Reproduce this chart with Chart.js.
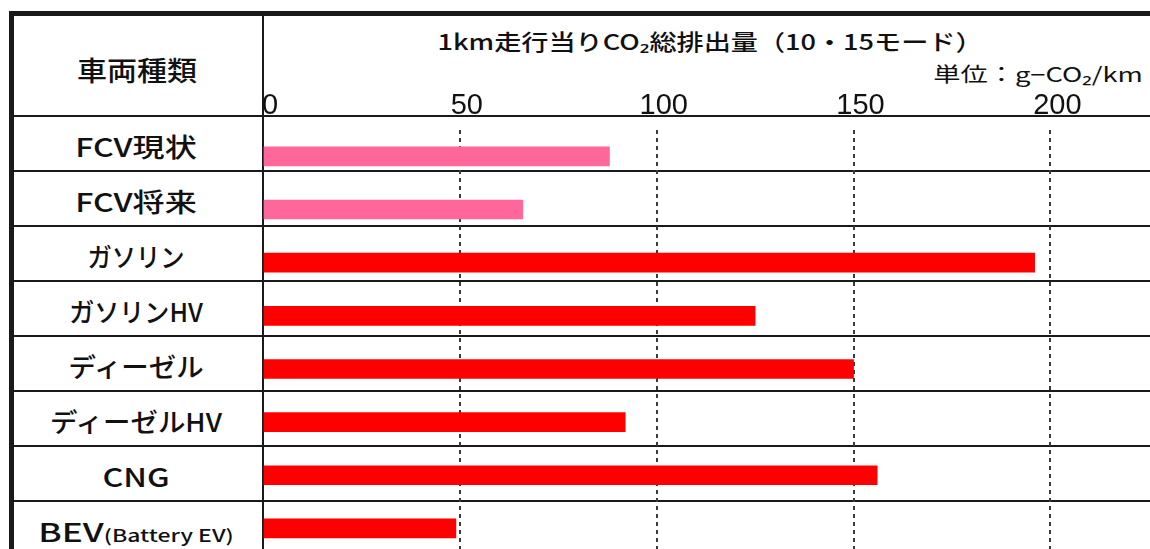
<!DOCTYPE html>
<html lang="ja">
<head>
<meta charset="utf-8">
<script src="https://cdn.jsdelivr.net/npm/chart.js@4.4.0/dist/chart.umd.min.js"></script>
<style>
html, body { margin: 0; padding: 0; background: #fff; overflow: hidden; }
#page {
    position: relative; width: 1150px; height: 549px; overflow: hidden;
    font-family: "Noto Sans CJK JP", "Noto Sans", sans-serif; color: #111;
}
.line { position: absolute; background: #1a1a1a; }
.fit {
    position: absolute; white-space: nowrap; line-height: 1;
    transform-origin: center center;
}
.row-label { font-size: 26px; font-weight: 500; }
.row-label small { font-size: 17px; font-weight: 500; }
#chartBox { position: absolute; left: 0; top: 0; width: 1150px; height: 560px; }
</style>
</head>
<body>
<div id="page">
    <div id="table"></div>
    <div id="chartBox"><canvas id="chartCO2"></canvas></div>
</div>

<script>
'use strict';

// ─────────────────────────────────────────────────────────────
// Données (g-CO2/km, 10・15モード)
// ─────────────────────────────────────────────────────────────
var categories = ['FCV現状', 'FCV将来', 'ガソリン', 'ガソリンHV', 'ディーゼル', 'ディーゼルHV', 'CNG', 'BEV(Battery EV)'];
var emissions = [88, 66, 196, 125, 150, 92, 156, 49];
var tickValues = [0, 50, 100, 150, 200];

var titleText = '1km走行当りCO₂総排出量（10・15モード）';
var unitText = '単位：g−CO₂/km';
var headerText = '車両種類';

var COLORS = {
    pink: '#FF6699',
    red: '#FF0000',
    grid: '#3a3a3a',
    text: '#111111'
};

// largeur visée pour chaque libellé de ligne (px)
var labelWidths = [122, 122, 97, 134, 135, 172, 67, 195];

// ─────────────────────────────────────────────────────────────
// Tableau (bordures + libellés) en HTML
// ─────────────────────────────────────────────────────────────
function addLine(parent, left, top, width, height) {
    var d = document.createElement('div');
    d.className = 'line';
    d.style.cssText = 'left:' + left + 'px;top:' + top + 'px;width:' + width + 'px;height:' + height + 'px;';
    parent.appendChild(d);
}

function addText(parent, html, cls, cx, cy, targetW, extraCss) {
    var d = document.createElement('div');
    d.className = 'fit ' + (cls || '');
    d.innerHTML = html;
    d.style.cssText = 'left:' + cx + 'px;top:' + cy + 'px;' + (extraCss || '');
    d.setAttribute('data-w', targetW);
    parent.appendChild(d);
    return d;
}

function buildTable() {
    var t = document.getElementById('table');
    var rowTop = 116, rowH = 55;

    addLine(t, 9, 11, 1200, 5);     // bord haut
    addLine(t, 9, 11, 5, 600);      // bord gauche
    addLine(t, 262, 16, 2, 600);    // séparateur de colonne

    for (var i = 0; i <= categories.length; i++) {
        addLine(t, 14, rowTop - 1 + i * rowH, 1200, 2);
    }

    addText(t, headerText, 'row-label', 137, 68.5, 120, 'font-size:27px;');
    addText(t, titleText, '', 710, 40, 545, 'font-size:22px;font-weight:500;');
    addText(t, unitText, '', 1038, 74, 210, 'font-size:20px;');

    for (var k = 0; k < categories.length; k++) {
        var name = categories[k];
        var p = name.indexOf('(');
        var html = p > 0 ? name.slice(0, p) + '<small>' + name.slice(p) + '</small>' : name;
        addText(t, html, 'row-label', 136, 146 + k * rowH, labelWidths[k]);
    }
}

function fitTexts() {
    var items = document.querySelectorAll('.fit');
    for (var i = 0; i < items.length; i++) {
        var el = items[i];
        var w = el.offsetWidth;
        var target = parseFloat(el.getAttribute('data-w'));
        var s = w > 0 ? target / w : 1;
        el.style.transform = 'translate(-50%, -50%) scaleX(' + s.toFixed(3) + ')';
    }
}

// ─────────────────────────────────────────────────────────────
// Graphique
// ─────────────────────────────────────────────────────────────
function initChartCO2() {
    var ctx = document.getElementById('chartCO2');
    if (!ctx) return;

    new Chart(ctx, {
        type: 'bar',
        data: {
            labels: categories,
            datasets: [{
                data: emissions,
                backgroundColor: function(c) {
                    return categories[c.dataIndex].indexOf('FCV') === 0 ? COLORS.pink : COLORS.red;
                },
                barThickness: 19,
                borderWidth: 0
            }]
        },
        options: {
            indexAxis: 'y',
            responsive: true,
            maintainAspectRatio: false,
            animation: false,
            devicePixelRatio: 1,
            layout: { padding: { left: 263, right: 0, top: 83, bottom: 5 } },
            plugins: {
                legend: { display: false },
                tooltip: { enabled: false }
            },
            scales: {
                x: {
                    type: 'linear',
                    position: 'top',
                    min: 0,
                    max: 225.3,
                    afterBuildTicks: function(scale) {
                        scale.ticks = tickValues.map(function(v) { return { value: v }; });
                    },
                    ticks: {
                        color: COLORS.text,
                        font: { family: 'Liberation Sans', size: 29 },
                        padding: 6,
                        labelOffset: 7,
                        maxRotation: 0,
                        autoSkip: false
                    },
                    grid: {
                        drawTicks: false,
                        lineWidth: 2,
                        color: function(c) {
                            return c.tick && c.tick.value === 0 ? 'rgba(0,0,0,0)' : COLORS.grid;
                        }
                    },
                    border: { display: false, dash: [4, 4] }
                },
                y: {
                    type: 'category',
                    display: false
                }
            }
        }
    });
}

buildTable();
fitTexts();
initChartCO2();
if (document.fonts && document.fonts.ready) {
    document.fonts.ready.then(fitTexts);
}
</script>
</body>
</html>
